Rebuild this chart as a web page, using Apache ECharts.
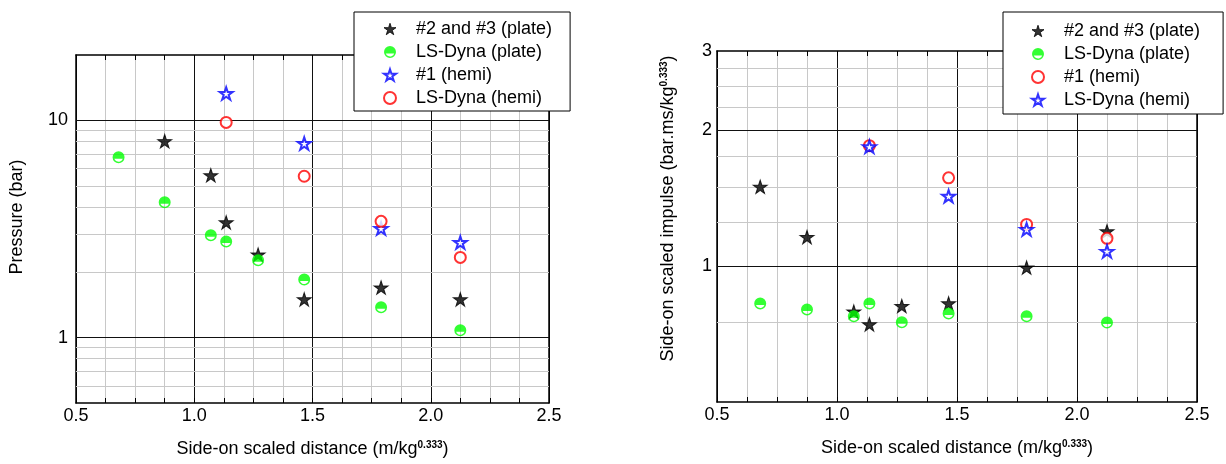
<!DOCTYPE html>
<html>
<head>
<meta charset="utf-8">
<script src="https://cdn.jsdelivr.net/npm/echarts@6/dist/echarts.min.js"></script>
<style>
html, body { margin: 0; padding: 0; background: #fff; }
#chart { width: 1226px; height: 464px; }
</style>
</head>
<body>
<div id="chart"></div>
<script>
// Series names
const N_PLATE_EXP = '#2 and #3 (plate)';
const N_PLATE_SIM = 'LS-Dyna (plate)';
const N_HEMI_EXP = '#1 (hemi)';
const N_HEMI_SIM = 'LS-Dyna (hemi)';

// Scaled distances (m/kg^0.333)
const distPlateTests = [0.875, 1.07, 1.135, 1.27, 1.465, 1.79, 2.125];
const distAll = [0.68, 0.875, 1.07, 1.135, 1.27, 1.465, 1.79, 2.125];
const distHemi = [1.135, 1.465, 1.79, 2.125];

// Peak side-on pressure (bar)
const pressurePlateExp = [8.02, 5.59, 3.39, 2.41, 1.50, 1.70, 1.50];
const pressurePlateSim = [6.77, 4.20, 2.96, 2.77, 2.27, 1.85, 1.38, 1.08];
const pressureHemiExp = [13.3, 7.83, 3.18, 2.74];
const pressureHemiSim = [9.79, 5.53, 3.43, 2.34];

// Side-on scaled impulse (bar.ms/kg^0.333)
const impulsePlateExp = [1.50, 1.16, 0.793, 0.743, 0.816, 0.827, 0.993, 1.195];
const impulsePlateSim = [0.827, 0.802, 0.775, 0.827, 0.751, 0.786, 0.775, 0.75];
const impulseHemiExp = [1.85, 1.57, 1.238, 1.153];
const impulseHemiSim = [1.84, 1.43, 1.207, 1.079];

// Axis ranges and ticks
const xRange = [0.5, 2.5];
const pressureRange = [0.5, 20];
const pressureLabels = [1, 10];
const pressureMajor = [1, 10];
const pressureMinor = [0.6, 0.7, 0.8, 0.9, 2, 3, 4, 5, 6, 7, 8, 9];
const impulseRange = [0.5, 3];
const impulseLabels = [1, 2, 3];
const impulseMajor = [1, 2];
const impulseMinor = [0.75, 1.25, 1.5, 1.75, 2.25, 2.5, 2.75];

const FONT = "'Liberation Sans', Arial, Helvetica, sans-serif";
const STAR = 'path://M10,0L12.245,6.91L19.511,6.91L13.633,11.18L15.878,18.09L10,13.82L4.122,18.09L6.367,11.18L0.489,6.91L7.755,6.91Z';
const HALF = 'path://M0,10A10,10 0 1,1 20,10A10,10 0 1,1 0,10ZM2.93,12.5A7.5,7.5 0 0,0 17.07,12.5L2.93,12.5Z';

const BLACK = '#000000', GREEN = '#00ff00', BLUE = '#0000ff', RED = '#ff0000';
const MINOR_GRID = '#c8c8c8', MAJOR_GRID = '#111111';

const zip = (xs, ys) => xs.map((x, i) => [x, ys[i]]);
const fmtNum = v => String(Math.round(v * 1000) / 1000);

const rich = {
  a: { fontSize: 18, fontFamily: FONT, color: '#000' },
  s: { fontSize: 10, fontFamily: FONT, fontWeight: 'bold', color: '#000', verticalAlign: 'top' }
};

function xAxes(gridIndex, name) {
  return [{
    type: 'value', gridIndex, min: xRange[0], max: xRange[1], interval: 0.5, position: 'bottom',
    axisLine: { show: true, onZero: false, lineStyle: { color: '#000', width: 1.5 } },
    axisTick: { show: true, inside: true, length: 5, lineStyle: { color: '#000' } },
    minorTick: { show: true, splitNumber: 4, length: 5, lineStyle: { color: '#000' } },
    axisLabel: { formatter: v => v.toFixed(1), fontSize: 18, fontFamily: FONT, color: '#000', margin: 4 },
    splitLine: { show: true, lineStyle: { color: MAJOR_GRID, width: 1 } },
    minorSplitLine: { show: true, lineStyle: { color: MINOR_GRID, width: 1 } },
    name, nameLocation: 'middle', nameGap: 37,
    nameTextStyle: { rich }
  }, {
    type: 'value', gridIndex, min: xRange[0], max: xRange[1], interval: 0.5, position: 'top',
    axisLine: { show: true, onZero: false, lineStyle: { color: '#000', width: 1.5 } },
    axisTick: { show: true, inside: true, length: 5, lineStyle: { color: '#000' } },
    minorTick: { show: true, splitNumber: 4, length: 5, lineStyle: { color: '#000' } },
    axisLabel: { show: false }, splitLine: { show: false }
  }];
}

function yAxes(gridIndex, range, labels, ticks, name, nameGap, labelMargin, namePad) {
  return [{
    type: 'log', logBase: 10, gridIndex, min: range[0], max: range[1], position: 'left',
    axisLine: { show: true, onZero: false, lineStyle: { color: '#000', width: 1.5 } },
    axisTick: { show: true, inside: true, length: 5, customValues: ticks, lineStyle: { color: '#000' } },
    axisLabel: { customValues: labels, formatter: fmtNum, fontSize: 18, fontFamily: FONT, color: '#000', margin: labelMargin },
    splitLine: { show: false }, minorTick: { show: false },
    name, nameLocation: 'middle', nameGap, nameRotate: 90,
    nameTextStyle: { rich, padding: namePad }
  }, {
    type: 'log', logBase: 10, gridIndex, min: range[0], max: range[1], position: 'right',
    axisLine: { show: true, onZero: false, lineStyle: { color: '#000', width: 1.5 } },
    axisTick: { show: true, inside: true, length: 5, customValues: ticks, lineStyle: { color: '#000' } },
    axisLabel: { show: false }, splitLine: { show: false }
  }];
}

// Horizontal grid lines on the log axes, drawn as value lines
function gridLines(xi, yi, values, color) {
  return {
    type: 'scatter', xAxisIndex: xi, yAxisIndex: yi, data: [], silent: true,
    markLine: {
      silent: true, symbol: 'none', animation: false, z: 1,
      label: { show: false }, emphasis: { disabled: true },
      lineStyle: { color, width: 1, type: 'solid' },
      data: values.map(v => ({ yAxis: v }))
    }
  };
}

function scatter(name, xi, yi, data, style) {
  return Object.assign({
    type: 'scatter', name, xAxisIndex: xi, yAxisIndex: yi, data, z: 10,
    animation: false, emphasis: { disabled: true }
  }, style);
}

const sBlackStar = { symbol: STAR, symbolSize: [14, 13.4], itemStyle: { color: BLACK, borderColor: BLACK, borderWidth: 1 } };
const sGreenHalf = { symbol: HALF, symbolSize: 12, itemStyle: { color: GREEN } };
const sBlueStar = { symbol: STAR, symbolSize: [13, 12.4], itemStyle: { color: '#fff', borderColor: BLUE, borderWidth: 2 } };
const sRedCircle = { symbol: 'emptyCircle', symbolSize: 11, itemStyle: { color: RED, borderColor: RED, borderWidth: 1.5 } };

const legendIcons = {
  blackStar: { icon: STAR, itemStyle: { color: BLACK, borderColor: BLACK, borderWidth: 1 } },
  greenHalf: { icon: HALF, itemStyle: { color: GREEN, borderWidth: 0 } },
  blueStar: { icon: STAR, itemStyle: { color: '#fff', borderColor: BLUE, borderWidth: 2 } },
  redCircle: { icon: 'emptyCircle', itemStyle: { color: RED, borderColor: RED, borderWidth: 1.5 } }
};

function legend(left, top, padding, entries) {
  return {
    orient: 'vertical', left, top, padding, selectedMode: false,
    backgroundColor: '#fff', borderColor: '#000', borderWidth: 1, borderRadius: 0,
    itemWidth: 12, itemHeight: 12, itemGap: 5,
    textStyle: { fontSize: 18, fontFamily: FONT, color: '#000', padding: [0, 0, 0, 15] },
    data: entries.map(([name, key]) => Object.assign({ name }, legendIcons[key]))
  };
}

const distanceName = '{a|Side-on scaled distance (m/kg}{s|0.333}{a|)}';

const option = {
  backgroundColor: '#fff',
  animation: false,
  textStyle: { fontFamily: FONT },
  grid: [
    { left: 76, top: 55, width: 473, height: 348 },
    { left: 717, top: 51, width: 480, height: 351 }
  ],
  xAxis: [].concat(xAxes(0, distanceName), xAxes(1, distanceName)),
  yAxis: [].concat(
    yAxes(0, pressureRange, pressureLabels, pressureMajor.concat(pressureMinor),
      '{a|Pressure (bar)}', 50, 8, [0, 0, 0, 24]),
    yAxes(1, impulseRange, impulseLabels, impulseMajor.concat(impulseMinor),
      '{a|Side-on scaled impulse (bar.ms/kg}{s|0.333}{a|)}', 40, 5, [0, 0, 0, 36])
  ),
  legend: [
    legend(354, 12, [8, 18, 4, 29], [
      [N_PLATE_EXP, 'blackStar'], [N_PLATE_SIM, 'greenHalf'],
      [N_HEMI_EXP, 'blueStar'], [N_HEMI_SIM, 'redCircle']
    ]),
    legend(1003, 12, [10, 23, 5, 28], [
      [N_PLATE_EXP, 'blackStar'], [N_PLATE_SIM, 'greenHalf'],
      [N_HEMI_EXP, 'redCircle'], [N_HEMI_SIM, 'blueStar']
    ])
  ],
  series: [
    gridLines(0, 0, pressureMinor, MINOR_GRID),
    gridLines(0, 0, pressureMajor, MAJOR_GRID),
    scatter(N_PLATE_EXP, 0, 0, zip(distPlateTests, pressurePlateExp), sBlackStar),
    scatter(N_PLATE_SIM, 0, 0, zip(distAll, pressurePlateSim), sGreenHalf),
    scatter(N_HEMI_EXP, 0, 0, zip(distHemi, pressureHemiExp), sBlueStar),
    scatter(N_HEMI_SIM, 0, 0, zip(distHemi, pressureHemiSim), sRedCircle),

    gridLines(2, 2, impulseMinor, MINOR_GRID),
    gridLines(2, 2, impulseMajor, MAJOR_GRID),
    scatter(N_PLATE_EXP, 2, 2, zip(distAll, impulsePlateExp), sBlackStar),
    scatter(N_PLATE_SIM, 2, 2, zip(distAll, impulsePlateSim), sGreenHalf),
    scatter(N_HEMI_EXP, 2, 2, zip(distHemi, impulseHemiExp), sRedCircle),
    scatter(N_HEMI_SIM, 2, 2, zip(distHemi, impulseHemiSim), sBlueStar)
  ]
};

const chart = echarts.init(document.getElementById('chart'), null, { renderer: 'canvas' });
chart.setOption(option);
</script>
</body>
</html>
